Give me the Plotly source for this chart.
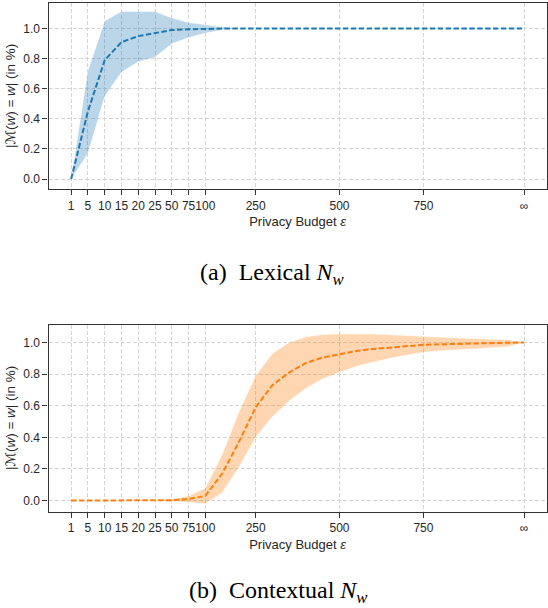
import plotly.graph_objects as go

# epsilon values, plotted at their position in the list (evenly spaced)
eps_values = [1, 5, 10, 15, 20, 25, 50, 75, 100, 150, 200, 250, 300, 350, 400,
              450, 500, 550, 600, 650, 700, 750, 800, 850, 900, 950, 1000, "inf"]
tick_eps = [1, 5, 10, 15, 20, 25, 50, 75, 100, 250, 500, 750, "inf"]
tick_text = ["1", "5", "10", "15", "20", "25", "50", "75", "100", "250", "500", "750", "∞"]

# (a) Lexical N_w
lex_mean = [0.0, 0.45, 0.79, 0.91, 0.95, 0.97, 0.99, 0.995, 1.0, 1.0, 1.0, 1.0, 1.0, 1.0,
            1.0, 1.0, 1.0, 1.0, 1.0, 1.0, 1.0, 1.0, 1.0, 1.0, 1.0, 1.0, 1.0, 1.0]
lex_upper = [0.0, 0.72, 1.05, 1.113, 1.113, 1.113, 1.07, 1.04, 1.025, 1.01, 1.0, 1.0, 1.0, 1.0,
             1.0, 1.0, 1.0, 1.0, 1.0, 1.0, 1.0, 1.0, 1.0, 1.0, 1.0, 1.0, 1.0, 1.0]
lex_lower = [0.0, 0.17, 0.55, 0.71, 0.78, 0.81, 0.90, 0.94, 0.97, 0.99, 1.0, 1.0, 1.0, 1.0,
             1.0, 1.0, 1.0, 1.0, 1.0, 1.0, 1.0, 1.0, 1.0, 1.0, 1.0, 1.0, 1.0, 1.0]

# (b) Contextual N_w
ctx_mean = [0.0, 0.0, 0.0, 0.0, 0.0, 0.0, 0.003, 0.01, 0.03, 0.17, 0.37, 0.59, 0.73, 0.81,
            0.87, 0.905, 0.927, 0.945, 0.958, 0.968, 0.977, 0.985, 0.988, 0.99, 0.993, 0.995, 0.997, 1.0]
ctx_upper = [0.0, 0.0, 0.0, 0.0, 0.0, 0.002, 0.01, 0.03, 0.08, 0.29, 0.56, 0.79, 0.93, 1.0,
             1.035, 1.05, 1.053, 1.055, 1.053, 1.048, 1.042, 1.038, 1.033, 1.028, 1.024, 1.02, 1.017, 1.0]
ctx_lower = [0.0, 0.0, 0.0, 0.0, 0.0, -0.002, -0.005, -0.01, -0.02, 0.05, 0.21, 0.40, 0.53, 0.63,
             0.71, 0.77, 0.81, 0.85, 0.875, 0.90, 0.92, 0.937, 0.948, 0.955, 0.962, 0.968, 0.973, 1.0]

W, H = 548, 608

def fx(px):
    return px / W

def fy(px):
    return 1 - px / H

xpos = list(range(len(eps_values)))
tick_pos = [eps_values.index(e) for e in tick_eps]

fig = go.Figure()

panels = [
    (lex_mean, lex_upper, lex_lower, "#1f77b4", "rgba(31,119,180,0.3)", "x", "y"),
    (ctx_mean, ctx_upper, ctx_lower, "#ff7f0e", "rgba(255,127,14,0.32)", "x2", "y2"),
]
for mean, upper, lower, color, fill, xa, ya in panels:
    fig.add_trace(go.Scatter(x=xpos, y=lower, mode="lines", xaxis=xa, yaxis=ya,
                             line=dict(color="rgba(255,255,255,0.7)", width=0.6),
                             showlegend=False, hoverinfo="skip"))
    fig.add_trace(go.Scatter(x=xpos, y=upper, mode="lines", xaxis=xa, yaxis=ya,
                             fill="tonexty", fillcolor=fill,
                             line=dict(color="rgba(255,255,255,0.7)", width=0.6),
                             showlegend=False, hoverinfo="skip"))
    fig.add_trace(go.Scatter(x=xpos, y=mean, mode="lines", xaxis=xa, yaxis=ya,
                             line=dict(color=color, width=2, dash="5.5px,2.4px"),
                             showlegend=False))

font = dict(family="Liberation Sans, Arial, sans-serif", size=12, color="#262626")
title_font = dict(font, size=13)
x_dom = [fx(48.5), fx(546.7)]

def xaxis_style():
    return dict(domain=x_dom, range=[-1.35, 28.35], tickmode="array",
                tickvals=tick_pos, ticktext=tick_text, tickangle=0, automargin=False,
                ticks="outside", ticklen=5,
                tickwidth=1.2, tickcolor="#333333", showline=True, mirror=True,
                linecolor="#333333", linewidth=1.3, showgrid=True,
                gridcolor="#d4d4d4", gridwidth=0.8, griddash="4px,2px",
                zeroline=False, tickfont=font,
                title=dict(text="Privacy Budget <i>ε</i>", font=title_font, standoff=5))

def yaxis_style(dom, rng):
    return dict(domain=dom, range=rng, tickmode="array", automargin=False,
                tickvals=[0, 0.2, 0.4, 0.6, 0.8, 1.0],
                ticktext=["0.0", "0.2", "0.4", "0.6", "0.8", "1.0"],
                ticks="outside", ticklen=5, tickwidth=1.2, tickcolor="#333333",
                showline=True, mirror=True, linecolor="#333333", linewidth=1.3,
                showgrid=True, gridcolor="#d4d4d4", gridwidth=0.8, griddash="4px,2px",
                zeroline=False, tickfont=font)

fig.update_layout(
    width=W, height=H,
    margin=dict(l=0, r=0, t=0, b=0),
    paper_bgcolor="white", plot_bgcolor="white",
    xaxis=dict(xaxis_style(), anchor="y"),
    yaxis=dict(yaxis_style([fy(189.3), fy(3)], [-0.068, 1.17]), anchor="x"),
    xaxis2=dict(xaxis_style(), anchor="y2"),
    yaxis2=dict(yaxis_style([fy(511.7), fy(325)], [-0.07, 1.11]), anchor="x2"),
)

ylabel = ("|<span style=\"font-family:DejaVu Sans\">ℳ</span>(<i>w</i>) = <i>w</i>| (in %)")
for yc in [96, 418]:
    fig.add_annotation(text=ylabel, xref="paper", yref="paper", x=fx(10), y=fy(yc),
                       textangle=-90, showarrow=False, font=dict(font, size=13.5),
                       xanchor="center", yanchor="middle")

cap_font = dict(family="Liberation Serif, Times New Roman, serif", size=24, color="black")
for text, xc, yc in [("(a)  Lexical <i>N</i><sub><i>w</i></sub>", 272, 274),
                     ("(b)  Contextual <i>N</i><sub><i>w</i></sub>", 278, 592)]:
    fig.add_annotation(text=text, xref="paper", yref="paper", x=fx(xc), y=fy(yc),
                       showarrow=False, font=cap_font, xanchor="center", yanchor="middle")

# drop the default 8px page margin so the figure fills the window exactly
fig.write_html("out.html", config={"displayModeBar": False},
               post_script="document.body.style.margin='0';")
